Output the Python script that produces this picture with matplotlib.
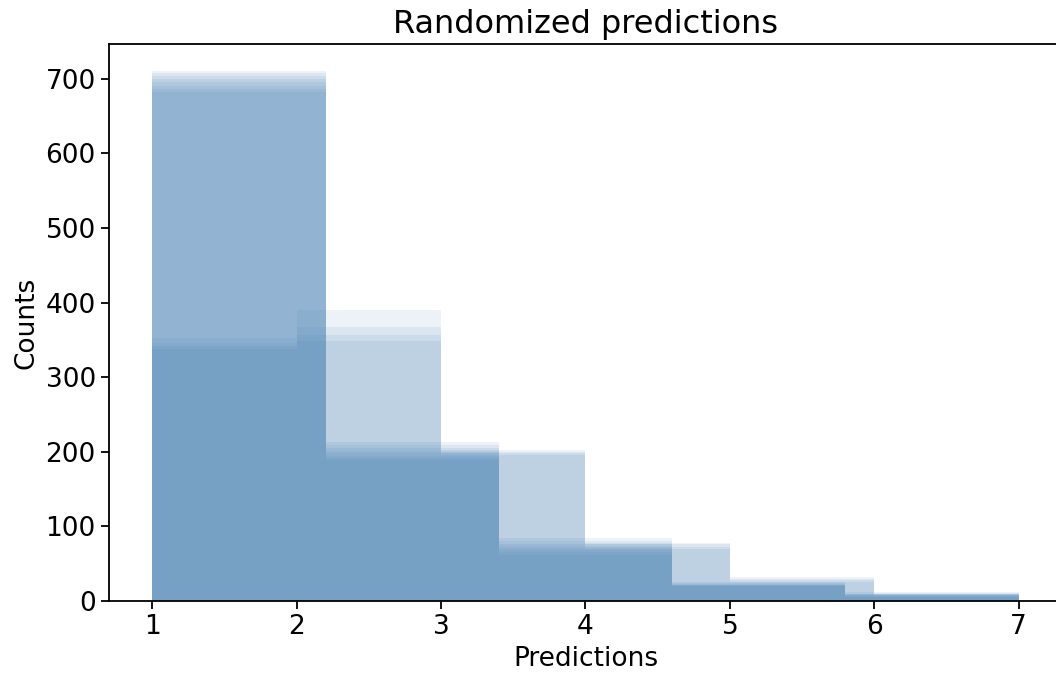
import numpy as np
from matplotlib import pyplot as plt

# Bin edges of the two kinds of randomized runs
edges_5 = np.linspace(1, 7, 6)   # 5 bins, width 1.2
edges_6 = np.linspace(1, 7, 7)   # 6 bins, width 1.0

# Counts per bin, one row per randomized draw
counts_5bins = [
    [711, 213, 85, 25, 12],
    [708, 209, 80, 24, 10],
    [704, 205, 77, 23, 10],
    [699, 201, 74, 22, 9],
    [695, 198, 71, 22, 8],
    [690, 195, 68, 21, 8],
    [686, 192, 65, 20, 7],
    [682, 189, 62, 20, 6],
]
counts_6bins = [
    [352, 390, 202, 78, 32, 11],
    [346, 367, 200, 76, 30, 9],
    [342, 356, 198, 72, 28, 8],
    [338, 349, 196, 70, 26, 7],
]

plt.rcParams['font.size'] = 19

fig = plt.figure(figsize=(10.56, 6.73), dpi=100)
ax = fig.add_axes([0.1032, 0.107, 0.9025, 0.8276])

centers_5 = (edges_5[:-1] + edges_5[1:]) / 2
centers_6 = (edges_6[:-1] + edges_6[1:]) / 2
for row in counts_5bins:
    ax.hist(centers_5, bins=edges_5, weights=row, alpha=0.1, color='steelblue')
for row in counts_6bins:
    ax.hist(centers_6, bins=edges_6, weights=row, alpha=0.1, color='steelblue')

ax.set_title('Randomized predictions', fontsize=23, pad=8)
ax.set_xlabel('Predictions')
ax.set_ylabel('Counts')
ax.tick_params(length=6, width=1.3)
for s in ax.spines.values():
    s.set_linewidth(1.3)

fig.savefig('out.png')
